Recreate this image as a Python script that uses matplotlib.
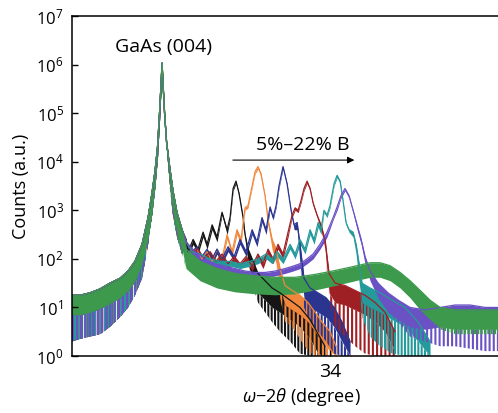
import matplotlib.pyplot as plt
import numpy as np

plt.rcParams['font.family'] = ['Open Sans', 'DejaVu Sans']
plt.rcParams['mathtext.fontset'] = 'custom'
plt.rcParams['mathtext.rm'] = 'Open Sans'
plt.rcParams['mathtext.it'] = 'Open Sans:italic'
plt.rcParams['hatch.linewidth'] = 1.5

################ Data (x in degree, counts stored as log10 values) ################

# GaAs (004) substrate peak, shared by every scan
sub_x = [32.464, 32.512, 32.571, 32.631, 32.690, 32.750, 32.798, 32.839, 32.881, 32.917,
         32.940, 32.958, 32.973, 32.985, 32.994, 33.000, 33.006, 33.015, 33.027, 33.045,
         33.065, 33.089, 33.119]
sub_hi = [1.25, 1.25, 1.3, 1.38, 1.5, 1.6, 1.75, 1.95, 2.3, 2.85,
          3.35, 3.8, 4.3, 5.0, 5.6, 6.03, 5.6, 5.0, 4.4, 3.9,
          3.4, 2.95, 2.6]
sub_lo = [0.3, 0.35, 0.4, 0.45, 0.6, 0.8, 1.0, 1.25, 1.6, 2.3,
          2.9, 3.5, 4.1, 4.85, 5.5, 6.0, 5.5, 4.85, 4.2, 3.5,
          2.9, 2.45, 2.1]
green_sub_lo = [0.85, 0.85, 0.9, 0.98, 1.05, 1.2, 1.35, 1.55, 1.9, 2.45,
                2.9, 3.5, 4.1, 4.85, 5.5, 6.0, 5.5, 4.85, 4.2, 3.5,
                2.9, 2.45, 2.1]

# 5% B
black_x = [33.143, 33.155, 33.185, 33.214, 33.244, 33.268, 33.298, 33.327, 33.357, 33.387,
           33.405, 33.423, 33.440, 33.458, 33.482, 33.494, 33.512, 33.536, 33.571, 33.613,
           33.655, 33.702, 33.762, 33.821, 33.881, 33.929, 33.970]
black_hi = [2.4, 2.15, 2.4, 2.2, 2.55, 2.3, 2.7, 2.45, 2.96, 2.6,
            2.86, 3.45, 3.6, 3.35, 2.86, 2.5, 2.2, 2.0, 1.7, 1.55,
            1.4, 1.3, 1.15, 1.0, 0.75, 0.45, 0.2]
black_lo = [2.2, 2.05, 2.3, 2.1, 2.45, 2.2, 2.6, 2.35, 2.9, 2.5,
            2.8, 3.4, 3.55, 3.3, 2.8, 2.4, 1.9, 1.5, 1.1, 0.9,
            0.7, 0.5, 0.3, 0.05, 0.0, 0.0, 0.0]

orange_x = [33.143, 33.179, 33.208, 33.238, 33.268, 33.298, 33.327, 33.357, 33.387, 33.417,
            33.446, 33.470, 33.494, 33.512, 33.536, 33.554, 33.571, 33.589, 33.613, 33.631,
            33.655, 33.679, 33.702, 33.732, 33.774, 33.821, 33.869, 33.911, 33.952, 34.000,
            34.036]
orange_hi = [2.35, 2.15, 2.2, 2.0, 2.15, 1.95, 2.2, 2.0, 2.5, 2.15,
             2.6, 2.4, 3.05, 3.1, 3.5, 3.8, 3.9, 3.75, 3.3, 2.8,
             2.4, 2.2, 1.8, 1.45, 1.35, 1.25, 1.1, 0.9, 0.7, 0.5,
             0.2]
orange_lo = [2.2, 2.05, 2.1, 1.9, 2.05, 1.85, 2.1, 1.9, 2.4, 2.05,
             2.5, 2.3, 3.0, 3.05, 3.45, 3.75, 3.85, 3.7, 3.25, 2.7,
             2.2, 1.9, 1.2, 0.7, 0.6, 0.35, 0.1, 0.0, 0.0, 0.0,
             0.0]

blue_x = [33.143, 33.179, 33.208, 33.238, 33.268, 33.298, 33.327, 33.357, 33.393, 33.429,
          33.464, 33.500, 33.536, 33.565, 33.595, 33.619, 33.643, 33.661, 33.679, 33.696,
          33.720, 33.744, 33.768, 33.786, 33.804, 33.821, 33.845, 33.881, 33.929, 33.976,
          34.024, 34.071, 34.119]
blue_hi = [2.35, 2.15, 2.25, 2.05, 2.2, 2.0, 2.2, 2.0, 2.25, 2.05,
           2.4, 2.15, 2.6, 2.35, 2.85, 2.6, 3.07, 2.85, 3.1, 3.5,
           3.9, 3.55, 3.0, 2.7, 2.75, 2.3, 1.6, 1.4, 1.3, 1.2,
           1.0, 0.7, 0.3]
blue_lo = [2.2, 2.05, 2.15, 1.95, 2.1, 1.9, 2.1, 1.9, 2.15, 1.95,
           2.3, 2.05, 2.5, 2.25, 2.75, 2.5, 3.0, 2.8, 3.05, 3.45,
           3.85, 3.5, 2.95, 2.6, 2.6, 1.9, 1.0, 0.7, 0.5, 0.3,
           0.05, 0.0, 0.0]

red_x = [33.143, 33.179, 33.214, 33.250, 33.286, 33.321, 33.357, 33.393, 33.429, 33.464,
         33.500, 33.536, 33.571, 33.601, 33.631, 33.661, 33.690, 33.720, 33.750, 33.774,
         33.792, 33.810, 33.827, 33.845, 33.863, 33.881, 33.899, 33.923, 33.946, 33.970,
         33.994, 34.030, 34.089, 34.149, 34.208, 34.268, 34.327, 34.387]
red_hi = [2.35, 2.15, 2.2, 2.0, 2.15, 1.95, 2.1, 1.9, 2.05, 1.9,
          2.05, 1.85, 2.1, 1.9, 2.2, 2.0, 2.3, 2.1, 2.55, 2.9,
          3.05, 3.0, 3.2, 3.45, 3.6, 3.45, 3.15, 2.9, 2.7, 2.4,
          1.7, 1.5, 1.45, 1.35, 1.25, 1.1, 0.9, 0.5]
red_lo = [2.2, 2.05, 2.1, 1.9, 2.05, 1.85, 2.0, 1.8, 1.95, 1.8,
          1.95, 1.75, 2.0, 1.8, 2.1, 1.9, 2.2, 2.0, 2.45, 2.85,
          3.0, 2.95, 3.15, 3.4, 3.55, 3.4, 3.1, 2.85, 2.6, 2.2,
          1.2, 0.6, 0.4, 0.2, 0.05, 0.0, 0.0, 0.0]

teal_x = [33.143, 33.179, 33.226, 33.286, 33.345, 33.405, 33.464, 33.524, 33.571, 33.619,
          33.655, 33.685, 33.720, 33.762, 33.792, 33.821, 33.851, 33.881, 33.905, 33.929,
          33.946, 33.964, 33.982, 34.000, 34.024, 34.042, 34.060, 34.077, 34.095, 34.113,
          34.137, 34.155, 34.173, 34.190, 34.238, 34.298, 34.369, 34.446, 34.524, 34.595]
teal_hi = [2.35, 2.15, 2.1, 2.0, 1.95, 1.95, 1.9, 1.95, 2.0, 2.1,
           2.0, 2.15, 2.0, 2.3, 2.1, 2.4, 2.2, 2.6, 2.4, 2.75,
           2.6, 3.0, 2.9, 3.1, 3.55, 3.72, 3.6, 3.2, 2.75, 2.6,
           2.55, 2.3, 1.9, 1.5, 1.4, 1.3, 1.15, 1.0, 0.7, 0.3]
teal_lo = [2.2, 2.05, 2.0, 1.9, 1.85, 1.85, 1.8, 1.85, 1.9, 2.0,
           1.9, 2.05, 1.9, 2.2, 2.0, 2.3, 2.1, 2.5, 2.3, 2.65,
           2.5, 2.95, 2.85, 3.05, 3.5, 3.67, 3.55, 3.15, 2.7, 2.55,
           2.45, 2.1, 1.5, 0.8, 0.4, 0.2, 0.05, 0.0, 0.0, 0.0]

violet_x = [33.143, 33.196, 33.256, 33.315, 33.375, 33.435, 33.494, 33.554, 33.613, 33.673,
            33.732, 33.780, 33.821, 33.863, 33.899, 33.940, 33.982, 34.018, 34.042, 34.065,
            34.089, 34.113, 34.137, 34.161, 34.185, 34.208, 34.238, 34.286, 34.345, 34.405,
            34.476, 34.565, 34.655, 34.744, 34.833, 34.923, 35.000, 35.190]
violet_hi = [2.35, 2.15, 2.0, 1.9, 1.85, 1.8, 1.75, 1.72, 1.72, 1.75,
             1.8, 1.85, 1.9, 2.0, 2.1, 2.3, 2.55, 2.85, 3.07, 3.3,
             3.45, 3.3, 3.0, 2.7, 2.4, 2.05, 1.75, 1.5, 1.3, 1.15,
             1.0, 0.95, 1.0, 1.05, 1.05, 1.0, 1.0, 1.0]
violet_lo = [2.2, 2.0, 1.85, 1.75, 1.7, 1.65, 1.6, 1.6, 1.6, 1.65,
             1.7, 1.75, 1.8, 1.9, 2.0, 2.2, 2.45, 2.8, 3.0, 3.25,
             3.4, 3.25, 2.95, 2.6, 2.3, 1.9, 1.55, 1.2, 0.9, 0.7,
             0.4, 0.3, 0.2, 0.2, 0.15, 0.1, 0.1, 0.1]

# 22% B
green_x = [33.143, 33.226, 33.327, 33.435, 33.554, 33.673, 33.792, 33.911, 34.030, 34.149,
           34.238, 34.298, 34.357, 34.417, 34.476, 34.536, 34.595, 34.655, 34.744, 34.833,
           34.923, 35.000, 35.190]
green_hi = [2.2, 1.95, 1.8, 1.7, 1.65, 1.62, 1.62, 1.68, 1.76, 1.85,
            1.92, 1.92, 1.86, 1.72, 1.55, 1.35, 1.15, 1.0, 0.95, 0.95,
            0.95, 0.95, 0.95]
green_lo = [1.8, 1.55, 1.4, 1.32, 1.28, 1.26, 1.28, 1.36, 1.45, 1.55,
            1.62, 1.62, 1.55, 1.4, 1.2, 0.95, 0.75, 0.55, 0.45, 0.45,
            0.45, 0.45, 0.45]

colors = ['#151515', '#f0873c', '#2b3590', '#9e1f24', '#259a9a', '#6a52c4', '#3d9a4c']
hatches = ['|||||', '||||', '|||||', '||||', '|||||', '||||', '|||||']
dense = 0.4   # depth (decades) of the solid part of each noise band

scans = [
    (black_x, black_hi, black_lo, sub_lo),
    (orange_x, orange_hi, orange_lo, sub_lo),
    (blue_x, blue_hi, blue_lo, sub_lo),
    (red_x, red_hi, red_lo, sub_lo),
    (teal_x, teal_hi, teal_lo, sub_lo),
    (violet_x, violet_hi, violet_lo, sub_lo),
    (green_x, green_hi, green_lo, green_sub_lo),
]

######################################### Plot #########################################
fig = plt.figure(figsize=(4.98, 4.13), dpi=100)
ax = fig.add_axes([72/498, 57/413, 458/498, 340/413])

for (x, hi, lo, slo), col, hat in zip(scans, colors, hatches):
    xx = np.array(sub_x + x)
    hi_log = np.array(sub_hi + hi)
    lo_log = np.array(slo + lo)
    mid_log = np.maximum(lo_log, hi_log - dense)
    # spiky lower part of the noise, then the dense upper part, then the trace
    ax.fill_between(xx, 10**lo_log, 10**mid_log, facecolor='none', edgecolor=col,
                    hatch=hat, lw=0)
    ax.fill_between(xx, 10**mid_log, 10**hi_log, color=col, lw=0)
    ax.plot(xx, 10**hi_log, color=col, lw=0.9)

ax.set_yscale('log')
ax.set_ylim(1, 1e7)
ax.set_xlim(32.464, 35.19)
ax.set_yticks([10.0**k for k in range(8)])
ax.minorticks_off()
ax.set_xticks([34])
ax.set_xticklabels(['34'])
ax.tick_params(direction='in', length=4, width=1, labelsize=12)
ax.tick_params(axis='x', labelsize=14, pad=5)
ax.tick_params(axis='y', pad=6)
for s in ax.spines.values():
    s.set_linewidth(1.1)

ax.set_ylabel('Counts (a.u.)', fontsize=13)
ax.set_xlabel(r'$\omega$$-$$2\theta$ (degree)', fontsize=13)

ax.text(33.006, 2.3e6, 'GaAs (004)', fontsize=14, ha='center', va='center')
ax.text(33.839, 2.2e4, '5%\u201322% B', fontsize=14, ha='center', va='center')
ax.annotate('', xy=(34.161, 1.08e4), xytext=(33.405, 1.08e4),
            arrowprops=dict(arrowstyle='-|>', color='black', lw=0.8,
                            mutation_scale=10))

plt.savefig('out.png', dpi=100)
